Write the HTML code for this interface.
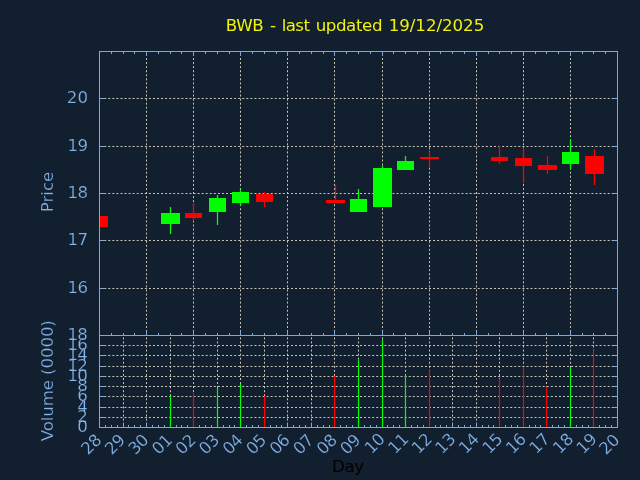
<!DOCTYPE html>
<html><head><meta charset="utf-8"><title>BWB</title>
<style>html,body{margin:0;padding:0;background:#111f2e;overflow:hidden}svg{display:block}</style>
</head><body>
<svg width="640" height="480" viewBox="0 0 640 480">
<rect x="0" y="0" width="640" height="480" fill="#111f2e"/>
<g stroke="#c8c4ba" stroke-width="1" stroke-dasharray="2 2.06" fill="none"><line x1="99.5" y1="98.5" x2="617.5" y2="98.5" stroke-dashoffset="3.4"/><line x1="99.5" y1="146.5" x2="617.5" y2="146.5" stroke-dashoffset="3.4"/><line x1="99.5" y1="193.5" x2="617.5" y2="193.5" stroke-dashoffset="3.4"/><line x1="99.5" y1="240.5" x2="617.5" y2="240.5" stroke-dashoffset="3.4"/><line x1="99.5" y1="288.5" x2="617.5" y2="288.5" stroke-dashoffset="3.4"/><line x1="146.5" y1="335.5" x2="146.5" y2="51.5" stroke-dashoffset="0.6"/><line x1="193.5" y1="335.5" x2="193.5" y2="51.5" stroke-dashoffset="0.6"/><line x1="240.5" y1="335.5" x2="240.5" y2="51.5" stroke-dashoffset="0.6"/><line x1="287.5" y1="335.5" x2="287.5" y2="51.5" stroke-dashoffset="0.6"/><line x1="334.5" y1="335.5" x2="334.5" y2="51.5" stroke-dashoffset="0.6"/><line x1="382.5" y1="335.5" x2="382.5" y2="51.5" stroke-dashoffset="0.6"/><line x1="429.5" y1="335.5" x2="429.5" y2="51.5" stroke-dashoffset="0.6"/><line x1="476.5" y1="335.5" x2="476.5" y2="51.5" stroke-dashoffset="0.6"/><line x1="523.5" y1="335.5" x2="523.5" y2="51.5" stroke-dashoffset="0.6"/><line x1="570.5" y1="335.5" x2="570.5" y2="51.5" stroke-dashoffset="0.6"/><line x1="99.5" y1="417.5" x2="617.5" y2="417.5" stroke-dashoffset="3.4"/><line x1="99.5" y1="407.5" x2="617.5" y2="407.5" stroke-dashoffset="3.4"/><line x1="99.5" y1="396.5" x2="617.5" y2="396.5" stroke-dashoffset="3.4"/><line x1="99.5" y1="386.5" x2="617.5" y2="386.5" stroke-dashoffset="3.4"/><line x1="99.5" y1="376.5" x2="617.5" y2="376.5" stroke-dashoffset="3.4"/><line x1="99.5" y1="366.5" x2="617.5" y2="366.5" stroke-dashoffset="3.4"/><line x1="99.5" y1="355.5" x2="617.5" y2="355.5" stroke-dashoffset="3.4"/><line x1="99.5" y1="345.5" x2="617.5" y2="345.5" stroke-dashoffset="3.4"/><line x1="123.5" y1="427.5" x2="123.5" y2="335.5" stroke-dashoffset="1.2"/><line x1="146.5" y1="427.5" x2="146.5" y2="335.5" stroke-dashoffset="1.2"/><line x1="170.5" y1="427.5" x2="170.5" y2="335.5" stroke-dashoffset="1.2"/><line x1="193.5" y1="427.5" x2="193.5" y2="335.5" stroke-dashoffset="1.2"/><line x1="217.5" y1="427.5" x2="217.5" y2="335.5" stroke-dashoffset="1.2"/><line x1="240.5" y1="427.5" x2="240.5" y2="335.5" stroke-dashoffset="1.2"/><line x1="264.5" y1="427.5" x2="264.5" y2="335.5" stroke-dashoffset="1.2"/><line x1="287.5" y1="427.5" x2="287.5" y2="335.5" stroke-dashoffset="1.2"/><line x1="311.5" y1="427.5" x2="311.5" y2="335.5" stroke-dashoffset="1.2"/><line x1="334.5" y1="427.5" x2="334.5" y2="335.5" stroke-dashoffset="1.2"/><line x1="358.5" y1="427.5" x2="358.5" y2="335.5" stroke-dashoffset="1.2"/><line x1="382.5" y1="427.5" x2="382.5" y2="335.5" stroke-dashoffset="1.2"/><line x1="405.5" y1="427.5" x2="405.5" y2="335.5" stroke-dashoffset="1.2"/><line x1="429.5" y1="427.5" x2="429.5" y2="335.5" stroke-dashoffset="1.2"/><line x1="452.5" y1="427.5" x2="452.5" y2="335.5" stroke-dashoffset="1.2"/><line x1="476.5" y1="427.5" x2="476.5" y2="335.5" stroke-dashoffset="1.2"/><line x1="499.5" y1="427.5" x2="499.5" y2="335.5" stroke-dashoffset="1.2"/><line x1="523.5" y1="427.5" x2="523.5" y2="335.5" stroke-dashoffset="1.2"/><line x1="546.5" y1="427.5" x2="546.5" y2="335.5" stroke-dashoffset="1.2"/><line x1="570.5" y1="427.5" x2="570.5" y2="335.5" stroke-dashoffset="1.2"/><line x1="593.5" y1="427.5" x2="593.5" y2="335.5" stroke-dashoffset="1.2"/></g>
<g stroke="#7aabdf" stroke-width="1" fill="none"><line x1="111.5" y1="51.5" x2="111.5" y2="54.0"/><line x1="111.5" y1="335.5" x2="111.5" y2="333.0"/><line x1="123.5" y1="51.5" x2="123.5" y2="54.0"/><line x1="123.5" y1="335.5" x2="123.5" y2="333.0"/><line x1="134.5" y1="51.5" x2="134.5" y2="54.0"/><line x1="134.5" y1="335.5" x2="134.5" y2="333.0"/><line x1="146.5" y1="51.5" x2="146.5" y2="56.0"/><line x1="146.5" y1="335.5" x2="146.5" y2="331.0"/><line x1="158.5" y1="51.5" x2="158.5" y2="54.0"/><line x1="158.5" y1="335.5" x2="158.5" y2="333.0"/><line x1="170.5" y1="51.5" x2="170.5" y2="54.0"/><line x1="170.5" y1="335.5" x2="170.5" y2="333.0"/><line x1="181.5" y1="51.5" x2="181.5" y2="54.0"/><line x1="181.5" y1="335.5" x2="181.5" y2="333.0"/><line x1="193.5" y1="51.5" x2="193.5" y2="56.0"/><line x1="193.5" y1="335.5" x2="193.5" y2="331.0"/><line x1="205.5" y1="51.5" x2="205.5" y2="54.0"/><line x1="205.5" y1="335.5" x2="205.5" y2="333.0"/><line x1="217.5" y1="51.5" x2="217.5" y2="54.0"/><line x1="217.5" y1="335.5" x2="217.5" y2="333.0"/><line x1="229.5" y1="51.5" x2="229.5" y2="54.0"/><line x1="229.5" y1="335.5" x2="229.5" y2="333.0"/><line x1="240.5" y1="51.5" x2="240.5" y2="56.0"/><line x1="240.5" y1="335.5" x2="240.5" y2="331.0"/><line x1="252.5" y1="51.5" x2="252.5" y2="54.0"/><line x1="252.5" y1="335.5" x2="252.5" y2="333.0"/><line x1="264.5" y1="51.5" x2="264.5" y2="54.0"/><line x1="264.5" y1="335.5" x2="264.5" y2="333.0"/><line x1="276.5" y1="51.5" x2="276.5" y2="54.0"/><line x1="276.5" y1="335.5" x2="276.5" y2="333.0"/><line x1="287.5" y1="51.5" x2="287.5" y2="56.0"/><line x1="287.5" y1="335.5" x2="287.5" y2="331.0"/><line x1="299.5" y1="51.5" x2="299.5" y2="54.0"/><line x1="299.5" y1="335.5" x2="299.5" y2="333.0"/><line x1="311.5" y1="51.5" x2="311.5" y2="54.0"/><line x1="311.5" y1="335.5" x2="311.5" y2="333.0"/><line x1="323.5" y1="51.5" x2="323.5" y2="54.0"/><line x1="323.5" y1="335.5" x2="323.5" y2="333.0"/><line x1="334.5" y1="51.5" x2="334.5" y2="56.0"/><line x1="334.5" y1="335.5" x2="334.5" y2="331.0"/><line x1="346.5" y1="51.5" x2="346.5" y2="54.0"/><line x1="346.5" y1="335.5" x2="346.5" y2="333.0"/><line x1="358.5" y1="51.5" x2="358.5" y2="54.0"/><line x1="358.5" y1="335.5" x2="358.5" y2="333.0"/><line x1="370.5" y1="51.5" x2="370.5" y2="54.0"/><line x1="370.5" y1="335.5" x2="370.5" y2="333.0"/><line x1="382.5" y1="51.5" x2="382.5" y2="56.0"/><line x1="382.5" y1="335.5" x2="382.5" y2="331.0"/><line x1="393.5" y1="51.5" x2="393.5" y2="54.0"/><line x1="393.5" y1="335.5" x2="393.5" y2="333.0"/><line x1="405.5" y1="51.5" x2="405.5" y2="54.0"/><line x1="405.5" y1="335.5" x2="405.5" y2="333.0"/><line x1="417.5" y1="51.5" x2="417.5" y2="54.0"/><line x1="417.5" y1="335.5" x2="417.5" y2="333.0"/><line x1="429.5" y1="51.5" x2="429.5" y2="56.0"/><line x1="429.5" y1="335.5" x2="429.5" y2="331.0"/><line x1="440.5" y1="51.5" x2="440.5" y2="54.0"/><line x1="440.5" y1="335.5" x2="440.5" y2="333.0"/><line x1="452.5" y1="51.5" x2="452.5" y2="54.0"/><line x1="452.5" y1="335.5" x2="452.5" y2="333.0"/><line x1="464.5" y1="51.5" x2="464.5" y2="54.0"/><line x1="464.5" y1="335.5" x2="464.5" y2="333.0"/><line x1="476.5" y1="51.5" x2="476.5" y2="56.0"/><line x1="476.5" y1="335.5" x2="476.5" y2="331.0"/><line x1="488.5" y1="51.5" x2="488.5" y2="54.0"/><line x1="488.5" y1="335.5" x2="488.5" y2="333.0"/><line x1="499.5" y1="51.5" x2="499.5" y2="54.0"/><line x1="499.5" y1="335.5" x2="499.5" y2="333.0"/><line x1="511.5" y1="51.5" x2="511.5" y2="54.0"/><line x1="511.5" y1="335.5" x2="511.5" y2="333.0"/><line x1="523.5" y1="51.5" x2="523.5" y2="56.0"/><line x1="523.5" y1="335.5" x2="523.5" y2="331.0"/><line x1="535.5" y1="51.5" x2="535.5" y2="54.0"/><line x1="535.5" y1="335.5" x2="535.5" y2="333.0"/><line x1="546.5" y1="51.5" x2="546.5" y2="54.0"/><line x1="546.5" y1="335.5" x2="546.5" y2="333.0"/><line x1="558.5" y1="51.5" x2="558.5" y2="54.0"/><line x1="558.5" y1="335.5" x2="558.5" y2="333.0"/><line x1="570.5" y1="51.5" x2="570.5" y2="56.0"/><line x1="570.5" y1="335.5" x2="570.5" y2="331.0"/><line x1="582.5" y1="51.5" x2="582.5" y2="54.0"/><line x1="582.5" y1="335.5" x2="582.5" y2="333.0"/><line x1="593.5" y1="51.5" x2="593.5" y2="54.0"/><line x1="593.5" y1="335.5" x2="593.5" y2="333.0"/><line x1="605.5" y1="51.5" x2="605.5" y2="54.0"/><line x1="605.5" y1="335.5" x2="605.5" y2="333.0"/><line x1="99.5" y1="98.5" x2="104.0" y2="98.5"/><line x1="617.5" y1="98.5" x2="613.0" y2="98.5"/><line x1="99.5" y1="146.5" x2="104.0" y2="146.5"/><line x1="617.5" y1="146.5" x2="613.0" y2="146.5"/><line x1="99.5" y1="193.5" x2="104.0" y2="193.5"/><line x1="617.5" y1="193.5" x2="613.0" y2="193.5"/><line x1="99.5" y1="240.5" x2="104.0" y2="240.5"/><line x1="617.5" y1="240.5" x2="613.0" y2="240.5"/><line x1="99.5" y1="288.5" x2="104.0" y2="288.5"/><line x1="617.5" y1="288.5" x2="613.0" y2="288.5"/><line x1="105.5" y1="427.5" x2="105.5" y2="425.0"/><line x1="111.5" y1="427.5" x2="111.5" y2="425.0"/><line x1="117.5" y1="427.5" x2="117.5" y2="425.0"/><line x1="123.5" y1="427.5" x2="123.5" y2="423.0"/><line x1="128.5" y1="427.5" x2="128.5" y2="425.0"/><line x1="134.5" y1="427.5" x2="134.5" y2="425.0"/><line x1="140.5" y1="427.5" x2="140.5" y2="425.0"/><line x1="146.5" y1="427.5" x2="146.5" y2="423.0"/><line x1="152.5" y1="427.5" x2="152.5" y2="425.0"/><line x1="158.5" y1="427.5" x2="158.5" y2="425.0"/><line x1="164.5" y1="427.5" x2="164.5" y2="425.0"/><line x1="170.5" y1="427.5" x2="170.5" y2="423.0"/><line x1="176.5" y1="427.5" x2="176.5" y2="425.0"/><line x1="181.5" y1="427.5" x2="181.5" y2="425.0"/><line x1="187.5" y1="427.5" x2="187.5" y2="425.0"/><line x1="193.5" y1="427.5" x2="193.5" y2="423.0"/><line x1="199.5" y1="427.5" x2="199.5" y2="425.0"/><line x1="205.5" y1="427.5" x2="205.5" y2="425.0"/><line x1="211.5" y1="427.5" x2="211.5" y2="425.0"/><line x1="217.5" y1="427.5" x2="217.5" y2="423.0"/><line x1="223.5" y1="427.5" x2="223.5" y2="425.0"/><line x1="229.5" y1="427.5" x2="229.5" y2="425.0"/><line x1="234.5" y1="427.5" x2="234.5" y2="425.0"/><line x1="240.5" y1="427.5" x2="240.5" y2="423.0"/><line x1="246.5" y1="427.5" x2="246.5" y2="425.0"/><line x1="252.5" y1="427.5" x2="252.5" y2="425.0"/><line x1="258.5" y1="427.5" x2="258.5" y2="425.0"/><line x1="264.5" y1="427.5" x2="264.5" y2="423.0"/><line x1="270.5" y1="427.5" x2="270.5" y2="425.0"/><line x1="276.5" y1="427.5" x2="276.5" y2="425.0"/><line x1="281.5" y1="427.5" x2="281.5" y2="425.0"/><line x1="287.5" y1="427.5" x2="287.5" y2="423.0"/><line x1="293.5" y1="427.5" x2="293.5" y2="425.0"/><line x1="299.5" y1="427.5" x2="299.5" y2="425.0"/><line x1="305.5" y1="427.5" x2="305.5" y2="425.0"/><line x1="311.5" y1="427.5" x2="311.5" y2="423.0"/><line x1="317.5" y1="427.5" x2="317.5" y2="425.0"/><line x1="323.5" y1="427.5" x2="323.5" y2="425.0"/><line x1="329.5" y1="427.5" x2="329.5" y2="425.0"/><line x1="334.5" y1="427.5" x2="334.5" y2="423.0"/><line x1="340.5" y1="427.5" x2="340.5" y2="425.0"/><line x1="346.5" y1="427.5" x2="346.5" y2="425.0"/><line x1="352.5" y1="427.5" x2="352.5" y2="425.0"/><line x1="358.5" y1="427.5" x2="358.5" y2="423.0"/><line x1="364.5" y1="427.5" x2="364.5" y2="425.0"/><line x1="370.5" y1="427.5" x2="370.5" y2="425.0"/><line x1="376.5" y1="427.5" x2="376.5" y2="425.0"/><line x1="382.5" y1="427.5" x2="382.5" y2="423.0"/><line x1="387.5" y1="427.5" x2="387.5" y2="425.0"/><line x1="393.5" y1="427.5" x2="393.5" y2="425.0"/><line x1="399.5" y1="427.5" x2="399.5" y2="425.0"/><line x1="405.5" y1="427.5" x2="405.5" y2="423.0"/><line x1="411.5" y1="427.5" x2="411.5" y2="425.0"/><line x1="417.5" y1="427.5" x2="417.5" y2="425.0"/><line x1="423.5" y1="427.5" x2="423.5" y2="425.0"/><line x1="429.5" y1="427.5" x2="429.5" y2="423.0"/><line x1="435.5" y1="427.5" x2="435.5" y2="425.0"/><line x1="440.5" y1="427.5" x2="440.5" y2="425.0"/><line x1="446.5" y1="427.5" x2="446.5" y2="425.0"/><line x1="452.5" y1="427.5" x2="452.5" y2="423.0"/><line x1="458.5" y1="427.5" x2="458.5" y2="425.0"/><line x1="464.5" y1="427.5" x2="464.5" y2="425.0"/><line x1="470.5" y1="427.5" x2="470.5" y2="425.0"/><line x1="476.5" y1="427.5" x2="476.5" y2="423.0"/><line x1="482.5" y1="427.5" x2="482.5" y2="425.0"/><line x1="488.5" y1="427.5" x2="488.5" y2="425.0"/><line x1="493.5" y1="427.5" x2="493.5" y2="425.0"/><line x1="499.5" y1="427.5" x2="499.5" y2="423.0"/><line x1="505.5" y1="427.5" x2="505.5" y2="425.0"/><line x1="511.5" y1="427.5" x2="511.5" y2="425.0"/><line x1="517.5" y1="427.5" x2="517.5" y2="425.0"/><line x1="523.5" y1="427.5" x2="523.5" y2="423.0"/><line x1="529.5" y1="427.5" x2="529.5" y2="425.0"/><line x1="535.5" y1="427.5" x2="535.5" y2="425.0"/><line x1="540.5" y1="427.5" x2="540.5" y2="425.0"/><line x1="546.5" y1="427.5" x2="546.5" y2="423.0"/><line x1="552.5" y1="427.5" x2="552.5" y2="425.0"/><line x1="558.5" y1="427.5" x2="558.5" y2="425.0"/><line x1="564.5" y1="427.5" x2="564.5" y2="425.0"/><line x1="570.5" y1="427.5" x2="570.5" y2="423.0"/><line x1="576.5" y1="427.5" x2="576.5" y2="425.0"/><line x1="582.5" y1="427.5" x2="582.5" y2="425.0"/><line x1="588.5" y1="427.5" x2="588.5" y2="425.0"/><line x1="593.5" y1="427.5" x2="593.5" y2="423.0"/><line x1="599.5" y1="427.5" x2="599.5" y2="425.0"/><line x1="605.5" y1="427.5" x2="605.5" y2="425.0"/><line x1="611.5" y1="427.5" x2="611.5" y2="425.0"/><line x1="99.5" y1="417.5" x2="104.0" y2="417.5"/><line x1="617.5" y1="417.5" x2="613.0" y2="417.5"/><line x1="99.5" y1="407.5" x2="104.0" y2="407.5"/><line x1="617.5" y1="407.5" x2="613.0" y2="407.5"/><line x1="99.5" y1="396.5" x2="104.0" y2="396.5"/><line x1="617.5" y1="396.5" x2="613.0" y2="396.5"/><line x1="99.5" y1="386.5" x2="104.0" y2="386.5"/><line x1="617.5" y1="386.5" x2="613.0" y2="386.5"/><line x1="99.5" y1="376.5" x2="104.0" y2="376.5"/><line x1="617.5" y1="376.5" x2="613.0" y2="376.5"/><line x1="99.5" y1="366.5" x2="104.0" y2="366.5"/><line x1="617.5" y1="366.5" x2="613.0" y2="366.5"/><line x1="99.5" y1="355.5" x2="104.0" y2="355.5"/><line x1="617.5" y1="355.5" x2="613.0" y2="355.5"/><line x1="99.5" y1="345.5" x2="104.0" y2="345.5"/><line x1="617.5" y1="345.5" x2="613.0" y2="345.5"/></g>
<rect x="100" y="216" width="8" height="11" fill="#ff0000"/>
<rect x="169.85" y="207" width="1.3" height="27" fill="#00ff00"/>
<rect x="161" y="213" width="19" height="11" fill="#00ff00"/>
<rect x="192.85" y="203" width="1.3" height="18" fill="#ff0000"/>
<rect x="185" y="213" width="17" height="5" fill="#ff0000"/>
<rect x="216.85" y="195" width="1.3" height="30" fill="#00ff00"/>
<rect x="209" y="198" width="17" height="14" fill="#00ff00"/>
<rect x="239.85" y="189" width="1.3" height="17" fill="#00ff00"/>
<rect x="232" y="192" width="17" height="11" fill="#00ff00"/>
<rect x="263.85" y="192" width="1.3" height="15" fill="#ff0000"/>
<rect x="256" y="194" width="17" height="8" fill="#ff0000"/>
<rect x="334.85" y="185" width="1.3" height="18" fill="#ff0000"/>
<rect x="326" y="200" width="19" height="3" fill="#ff0000"/>
<rect x="357.85" y="189" width="1.3" height="23" fill="#00ff00"/>
<rect x="350" y="199" width="17" height="13" fill="#00ff00"/>
<rect x="381.85" y="166" width="1.3" height="41" fill="#00ff00"/>
<rect x="373" y="168" width="19" height="39" fill="#00ff00"/>
<rect x="404.85" y="156" width="1.3" height="14" fill="#00ff00"/>
<rect x="397" y="161" width="17" height="9" fill="#00ff00"/>
<rect x="428.85" y="152" width="1.3" height="15" fill="#ff0000"/>
<rect x="420" y="157" width="19" height="2" fill="#ff0000"/>
<rect x="498.85" y="146" width="1.3" height="18" fill="#ff0000"/>
<rect x="491" y="157" width="17" height="4" fill="#ff0000"/>
<rect x="522.85" y="148" width="1.3" height="35" fill="#ff0000"/>
<rect x="515" y="158" width="17" height="8" fill="#ff0000"/>
<rect x="546.85" y="156" width="1.3" height="18" fill="#ff0000"/>
<rect x="538" y="165" width="19" height="5" fill="#ff0000"/>
<rect x="569.85" y="140" width="1.3" height="29" fill="#00ff00"/>
<rect x="562" y="152" width="17" height="12" fill="#00ff00"/>
<rect x="593.85" y="149" width="1.3" height="36" fill="#ff0000"/>
<rect x="585" y="156" width="19" height="18" fill="#ff0000"/>
<rect x="169.9" y="396" width="1.2" height="31.5" fill="#00ff00"/>
<rect x="192.9" y="393" width="1.2" height="34.5" fill="#ff0000"/>
<rect x="216.9" y="388" width="1.2" height="39.5" fill="#00ff00"/>
<rect x="239.9" y="383.75" width="1.2" height="43.75" fill="#00ff00"/>
<rect x="263.9" y="396" width="1.2" height="31.5" fill="#ff0000"/>
<rect x="333.9" y="376" width="1.2" height="51.5" fill="#ff0000"/>
<rect x="357.9" y="360" width="1.2" height="67.5" fill="#00ff00"/>
<rect x="381.9" y="339.5" width="1.2" height="88.0" fill="#00ff00"/>
<rect x="404.9" y="375" width="1.2" height="52.5" fill="#00ff00"/>
<rect x="428.9" y="369" width="1.2" height="58.5" fill="#ff0000"/>
<rect x="498.9" y="378.75" width="1.2" height="48.75" fill="#ff0000"/>
<rect x="522.9" y="367" width="1.2" height="60.5" fill="#ff0000"/>
<rect x="545.9" y="386.75" width="1.2" height="40.75" fill="#ff0000"/>
<rect x="569.9" y="367" width="1.2" height="60.5" fill="#00ff00"/>
<rect x="592.9" y="350" width="1.2" height="77.5" fill="#ff0000"/>
<g stroke="#7aabdf" stroke-width="1" fill="none"><rect x="99.5" y="51.5" width="518.0" height="376.0"/><line x1="99.5" y1="335.5" x2="617.5" y2="335.5"/></g>
<g font-family="'DejaVu Sans', 'Liberation Sans', sans-serif" font-size="16.67px" stroke="#111f2e" stroke-width="0.22"><text x="225.8" y="30.8" dx="0 -0.35 -0.35 0 1.1 0 0.4 -0.5 -0.5 -0.5 0 0.4 -0.35 -0.35 -0.35 -0.35 -0.35 -0.35 0 1.05 0 0 0 0 0 0 0 0 0" letter-spacing="-0.06" stroke="none" fill="#f2f20a">BWB - last updated 19/12/2025</text><text x="332.0" y="471.6" letter-spacing="-0.4" stroke="none" fill="#000000">Day</text><text x="88.0" y="103.1" text-anchor="end" fill="#84b4ea">20</text><text x="88.0" y="151.1" dx="0 -0.8" text-anchor="end" fill="#84b4ea">19</text><text x="88.0" y="198.1" dx="0 -0.8" text-anchor="end" fill="#84b4ea">18</text><text x="88.0" y="245.1" dx="0 -0.8" text-anchor="end" fill="#84b4ea">17</text><text x="88.0" y="293.1" dx="0 -0.8" text-anchor="end" fill="#84b4ea">16</text><text x="87.9" y="432.4" text-anchor="end" fill="#84b4ea">0</text><text x="87.9" y="422.4" text-anchor="end" fill="#84b4ea">2</text><text x="87.9" y="412.4" text-anchor="end" fill="#84b4ea">4</text><text x="87.9" y="401.4" text-anchor="end" fill="#84b4ea">6</text><text x="87.9" y="391.4" text-anchor="end" fill="#84b4ea">8</text><text x="87.9" y="381.4" dx="0 -0.8" text-anchor="end" fill="#84b4ea">10</text><text x="87.9" y="371.4" dx="0 -0.8" text-anchor="end" fill="#84b4ea">12</text><text x="87.9" y="360.4" dx="0 -0.8" text-anchor="end" fill="#84b4ea">14</text><text x="87.9" y="350.4" dx="0 -0.8" text-anchor="end" fill="#84b4ea">16</text><text x="87.9" y="340.4" dx="0 -0.8" text-anchor="end" fill="#84b4ea">18</text><text transform="translate(53.3,192) rotate(-90)" text-anchor="middle" fill="#84b4ea">Price</text><text transform="translate(53.2,380.8) rotate(-90)" letter-spacing="-0.12" text-anchor="middle" fill="#84b4ea">Volume (0000)</text><text transform="translate(102.40,441.3) rotate(-45)" letter-spacing="-0.5" text-anchor="end" fill="#84b4ea">28</text><text transform="translate(125.95,441.3) rotate(-45)" letter-spacing="-0.5" text-anchor="end" fill="#84b4ea">29</text><text transform="translate(149.49,441.3) rotate(-45)" letter-spacing="-0.5" text-anchor="end" fill="#84b4ea">30</text><text transform="translate(173.04,441.3) rotate(-45)" letter-spacing="-0.5" text-anchor="end" fill="#84b4ea">01</text><text transform="translate(196.58,441.3) rotate(-45)" letter-spacing="-0.5" text-anchor="end" fill="#84b4ea">02</text><text transform="translate(220.13,441.3) rotate(-45)" letter-spacing="-0.5" text-anchor="end" fill="#84b4ea">03</text><text transform="translate(243.67,441.3) rotate(-45)" letter-spacing="-0.5" text-anchor="end" fill="#84b4ea">04</text><text transform="translate(267.22,441.3) rotate(-45)" letter-spacing="-0.5" text-anchor="end" fill="#84b4ea">05</text><text transform="translate(290.76,441.3) rotate(-45)" letter-spacing="-0.5" text-anchor="end" fill="#84b4ea">06</text><text transform="translate(314.31,441.3) rotate(-45)" letter-spacing="-0.5" text-anchor="end" fill="#84b4ea">07</text><text transform="translate(337.85,441.3) rotate(-45)" letter-spacing="-0.5" text-anchor="end" fill="#84b4ea">08</text><text transform="translate(361.40,441.3) rotate(-45)" letter-spacing="-0.5" text-anchor="end" fill="#84b4ea">09</text><text transform="translate(385.75,440.4) rotate(-45)" letter-spacing="-0.5" text-anchor="end" fill="#84b4ea">10</text><text transform="translate(409.29,440.4) rotate(-45)" letter-spacing="-0.5" text-anchor="end" fill="#84b4ea">11</text><text transform="translate(432.84,440.4) rotate(-45)" letter-spacing="-0.5" text-anchor="end" fill="#84b4ea">12</text><text transform="translate(456.38,440.4) rotate(-45)" letter-spacing="-0.5" text-anchor="end" fill="#84b4ea">13</text><text transform="translate(479.93,440.4) rotate(-45)" letter-spacing="-0.5" text-anchor="end" fill="#84b4ea">14</text><text transform="translate(503.47,440.4) rotate(-45)" letter-spacing="-0.5" text-anchor="end" fill="#84b4ea">15</text><text transform="translate(527.02,440.4) rotate(-45)" letter-spacing="-0.5" text-anchor="end" fill="#84b4ea">16</text><text transform="translate(550.56,440.4) rotate(-45)" letter-spacing="-0.5" text-anchor="end" fill="#84b4ea">17</text><text transform="translate(574.11,440.4) rotate(-45)" letter-spacing="-0.5" text-anchor="end" fill="#84b4ea">18</text><text transform="translate(597.65,440.4) rotate(-45)" letter-spacing="-0.5" text-anchor="end" fill="#84b4ea">19</text><text transform="translate(620.40,441.3) rotate(-45)" letter-spacing="-0.5" text-anchor="end" fill="#84b4ea">20</text></g>
</svg>
</body></html>
